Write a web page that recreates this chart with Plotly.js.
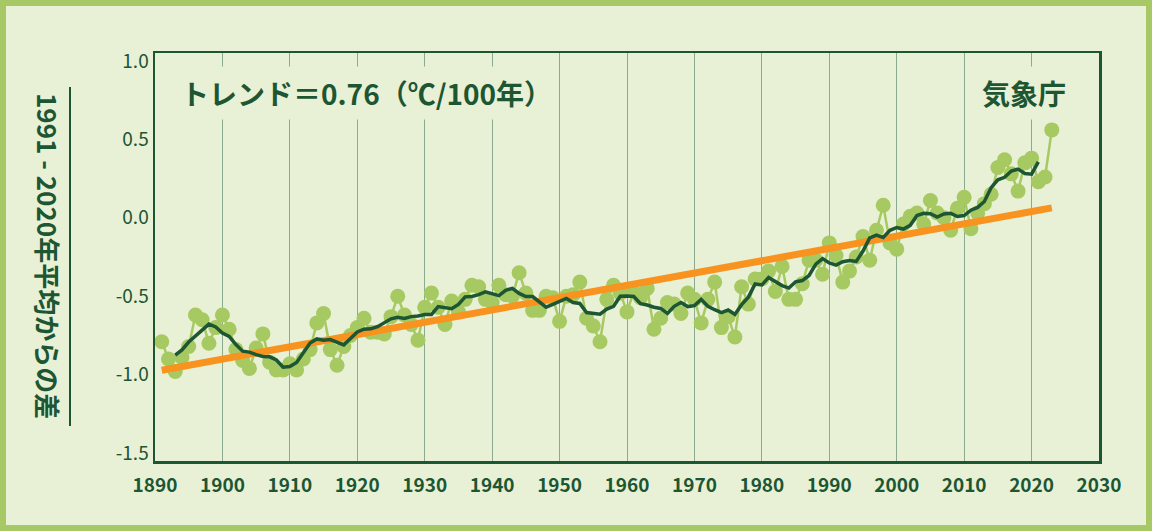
<!DOCTYPE html>
<html lang="ja">
<head>
<meta charset="utf-8">
<script src="https://cdn.plot.ly/plotly-3.0.1.min.js"></script>
<style>
  html, body { margin: 0; padding: 0; background: #e8f0d6; }
  #wrap { position: relative; width: 1152px; height: 531px; }
  #chart { width: 1152px; height: 531px; }
  #frame { position: absolute; left: 0; top: 0; width: 1152px; height: 531px;
           box-sizing: border-box; border: 6px solid #a6c966; pointer-events: none; }
</style>
</head>
<body>
<div id="wrap"><div id="chart"></div><div id="frame"></div></div>
<script>
// 年 (1891-2023)
const firstYear = 1891;
// 1991-2020年平均からの差 (℃), 図から読み取り
const anomaly = [
  -0.79, -0.90, -0.98, -0.89, -0.82, -0.62, -0.65, -0.80, -0.70, -0.62, // 1891-1900
  -0.71, -0.84, -0.91, -0.96, -0.83, -0.74, -0.92, -0.97, -0.97, -0.93, // 1901-1910
  -0.97, -0.90, -0.84, -0.67, -0.61, -0.84, -0.94, -0.82, -0.75, -0.70, // 1911-1920
  -0.64, -0.73, -0.73, -0.74, -0.63, -0.50, -0.62, -0.68, -0.78, -0.57, // 1921-1930
  -0.48, -0.57, -0.68, -0.53, -0.60, -0.52, -0.43, -0.44, -0.52, -0.54, // 1931-1940
  -0.43, -0.49, -0.50, -0.35, -0.48, -0.59, -0.59, -0.50, -0.51, -0.66, // 1941-1950
  -0.50, -0.49, -0.41, -0.64, -0.69, -0.79, -0.52, -0.43, -0.48, -0.60, // 1951-1960
  -0.47, -0.51, -0.45, -0.71, -0.64, -0.54, -0.55, -0.61, -0.48, -0.52, // 1961-1970
  -0.67, -0.52, -0.41, -0.70, -0.63, -0.76, -0.44, -0.55, -0.39, -0.39, // 1971-1980
  -0.34, -0.47, -0.31, -0.52, -0.52, -0.42, -0.27, -0.27, -0.36, -0.16, // 1981-1990
  -0.24, -0.41, -0.34, -0.25, -0.12, -0.27, -0.08,  0.08, -0.16, -0.20, // 1991-2000
  -0.04,  0.01,  0.03, -0.04,  0.11,  0.03,  0.00, -0.08,  0.06,  0.13, // 2001-2010
  -0.07,  0.03,  0.09,  0.15,  0.32,  0.37,  0.28,  0.17,  0.35,  0.38, // 2011-2020
   0.23,  0.26,  0.56                                                   // 2021-2023
];
const years = anomaly.map((_, i) => firstYear + i);

// 目盛り
const xTicks = [1890, 1900, 1910, 1920, 1930, 1940, 1950, 1960, 1970, 1980, 1990, 2000, 2010, 2020, 2030];
const yTickVals = [-1.5, -1.0, -0.5, 0.0, 0.5, 1.0];
const yTickText = ['-1.5', '-1.0', '-0.5', '0.0', '0.5', '1.0'];

const trendText = 'トレンド＝0.76（℃/100年）';
const sourceText = '気象庁';
const yTitle = '1991 - 2020年平均からの差';

// 5年移動平均
function runningMean(vals, n) {
  const h = Math.floor(n / 2);
  return vals.map((_, i) => {
    if (i < h || i >= vals.length - h) return null;
    let s = 0;
    for (let k = i - h; k <= i + h; k++) s += vals[k];
    return s / n;
  });
}

// 最小二乗法のトレンド
function linearFit(xs, ys) {
  const n = xs.length;
  const mx = xs.reduce((a, b) => a + b, 0) / n;
  const my = ys.reduce((a, b) => a + b, 0) / n;
  let sxy = 0, sxx = 0;
  for (let i = 0; i < n; i++) {
    sxy += (xs[i] - mx) * (ys[i] - my);
    sxx += (xs[i] - mx) * (xs[i] - mx);
  }
  const b = sxy / sxx;
  return { a: my - b * mx, b: b };
}

const meanVals = runningMean(anomaly, 5);
const fit = linearFit(years, anomaly);
const trendX = [years[0], years[years.length - 1]];
const trendY = trendX.map(x => fit.a + fit.b * x);

const FONT = '"Noto Sans CJK JP", "Noto Sans", sans-serif';
const DARK = '#1d5632';
const LIGHT = '#a6c962';
const BG = '#e8f0d6';

const traces = [
  {
    x: years, y: anomaly, type: 'scatter', mode: 'lines+markers',
    line: { color: LIGHT, width: 2.5 },
    marker: { color: LIGHT, size: 15 },
    hoverinfo: 'skip'
  },
  {
    x: trendX, y: trendY, type: 'scatter', mode: 'lines',
    line: { color: '#f7931e', width: 7 },
    hoverinfo: 'skip'
  },
  {
    x: years, y: meanVals, type: 'scatter', mode: 'lines',
    line: { color: DARK, width: 3.5 },
    connectgaps: false,
    hoverinfo: 'skip'
  }
];

const layout = {
  width: 1152, height: 531,
  margin: { l: 155, r: 53, t: 53, b: 70 },
  paper_bgcolor: BG, plot_bgcolor: BG,
  showlegend: false,
  font: { family: FONT, color: DARK },
  xaxis: {
    range: [1890, 2030], tickvals: xTicks, ticks: '',
    showgrid: true, gridcolor: '#8aab8f', gridwidth: 1,
    zeroline: false, showline: true, mirror: true,
    linecolor: DARK, linewidth: 2.5, ticklabelstandoff: 6,
    tickfont: { family: FONT, size: 19, color: DARK, weight: 'bold' }
  },
  yaxis: {
    range: [-1.55, 1.05], tickvals: yTickVals, ticktext: yTickText, ticks: '',
    showgrid: false, zeroline: false, showline: true, mirror: true,
    linecolor: DARK, linewidth: 2.5,
    tickfont: { family: FONT, size: 19, color: DARK }
  },
  annotations: [
    {
      text: trendText, xref: 'paper', yref: 'paper', x: 0.02, y: 0.902,
      xanchor: 'left', yanchor: 'middle', showarrow: false,
      bgcolor: BG, borderpad: 6,
      font: { family: FONT, size: 28, color: DARK, weight: 'bold' }
    },
    {
      text: sourceText, xref: 'paper', yref: 'paper', x: 0.9725, y: 0.902,
      xanchor: 'right', yanchor: 'middle', showarrow: false,
      bgcolor: BG, borderpad: 6,
      font: { family: FONT, size: 28, color: DARK, weight: 'bold' }
    },
    {
      text: yTitle, xref: 'paper', yref: 'paper',
      x: (49 - 155) / 944, y: (461 - 256) / 408,
      xanchor: 'center', yanchor: 'middle', textangle: 90, showarrow: false,
      font: { family: FONT, size: 26, color: DARK, weight: 'bold' }
    }
  ],
  shapes: [
    {
      type: 'line', xref: 'paper', yref: 'paper',
      x0: (70 - 155) / 944, x1: (70 - 155) / 944,
      y0: (461 - 87) / 408, y1: (461 - 426) / 408,
      line: { color: DARK, width: 2 }
    }
  ]
};

Plotly.newPlot('chart', traces, layout, { displayModeBar: false, staticPlot: true });
</script>
</body>
</html>
